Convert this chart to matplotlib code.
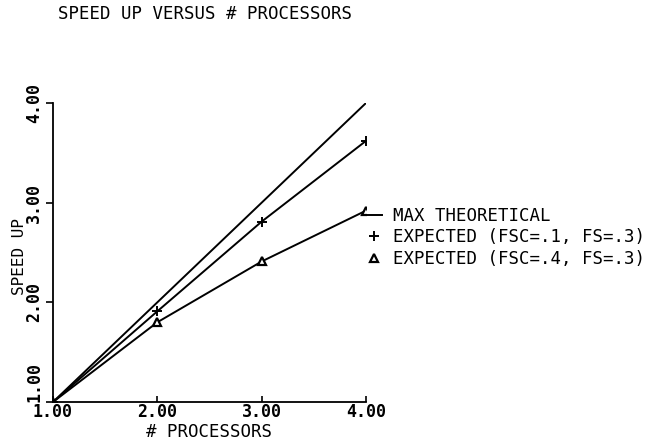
import matplotlib
matplotlib.use('Agg')
import matplotlib.pyplot as plt
from matplotlib.lines import Line2D

# speed up vs number of processors
processors = [1, 2, 3, 4]
max_theoretical = [1.0, 2.0, 3.0, 4.0]
expected_fsc1 = [1.0, 1.91, 2.81, 3.62]
expected_fsc4 = [1.0, 1.80, 2.41, 2.92]

tick_vals = [1, 2, 3, 4]
tick_labels = ['1.00', '2.00', '3.00', '4.00']
legend_labels = ['MAX THEORETICAL', 'EXPECTED (FSC=.1, FS=.3)', 'EXPECTED (FSC=.4, FS=.3)']

plt.rcParams['font.family'] = ['DejaVu Sans Mono']

fig = plt.figure(figsize=(6.63, 4.42), dpi=100)
ax = fig.add_axes([53 / 663, 40 / 442, 313 / 663, 299 / 442])

ax.plot(processors, max_theoretical, color='black', lw=1.4)
ax.plot(processors, expected_fsc1, color='black', lw=1.4,
        marker='+', ms=7, mew=1.4)
ax.plot(processors, expected_fsc4, color='black', lw=1.4,
        marker='^', ms=6, mfc='white', mew=1.6)

ax.set_xlim(1, 4)
ax.set_ylim(1, 4)
for s in ['top', 'right']:
    ax.spines[s].set_visible(False)
for s in ['left', 'bottom']:
    ax.spines[s].set_linewidth(1.3)

ax.set_xticks(tick_vals)
ax.set_xticklabels(tick_labels, fontsize=12, fontweight='bold')
ax.set_yticks(tick_vals)
ax.set_yticklabels(tick_labels, fontsize=12, fontweight='bold',
                   rotation=90, va='center')
ax.get_yticklabels()[0].set_va('bottom')
ax.tick_params(axis='x', direction='in', length=4, width=1.2, pad=1)
ax.tick_params(axis='y', direction='out', length=5, width=1.2, pad=2)

ax.set_xlabel('# PROCESSORS', fontsize=12.5, labelpad=1)
ax.set_ylabel('SPEED UP', fontsize=11.5)
ax.yaxis.set_label_coords(-0.082, 0.485)

fig.text(58 / 663, 1 - 14 / 442, 'SPEED UP VERSUS # PROCESSORS',
         fontsize=12.5, ha='left', va='center')

handles = [
    Line2D([], [], color='black', lw=1.4),
    Line2D([], [], color='black', ls='none', marker='+', ms=7, mew=1.4),
    Line2D([], [], color='black', ls='none', marker='^', ms=6,
           mfc='white', mew=1.6),
]
fig.legend(handles, legend_labels, loc='upper left',
           bbox_to_anchor=(365 / 663, 1 - 207 / 442), frameon=False,
           fontsize=12.5, handlelength=1.0, handletextpad=0.6,
           labelspacing=0.2, borderpad=0, borderaxespad=0)

fig.savefig('out.png', dpi=100)
